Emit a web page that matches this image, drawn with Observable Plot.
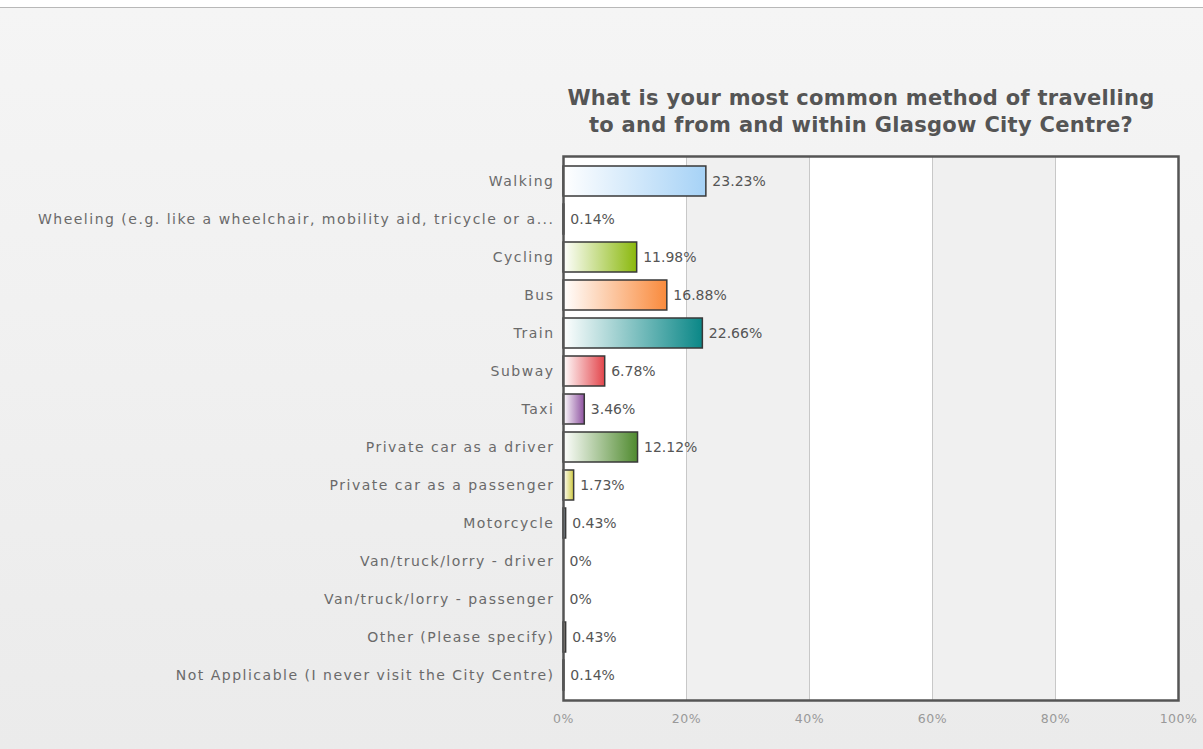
<!DOCTYPE html>
<html><head><meta charset="utf-8">
<script src="https://cdn.jsdelivr.net/npm/d3@7"></script>
<script src="https://cdn.jsdelivr.net/npm/@observablehq/plot@0.6"></script>
<style>
body{margin:0;width:1203px;height:749px;overflow:hidden;background:#fff;font-family:"DejaVu Sans",Verdana,sans-serif}
#wrap{position:absolute;left:0;top:7px;width:1203px;height:742px;border-top:1px solid #b8b8b8;background:linear-gradient(#f5f5f5,#ebebeb)}
#title{position:absolute;left:556px;width:610px;top:85px;text-align:center;font-weight:bold;font-size:21px;letter-spacing:0.3px;color:#555;line-height:27px;white-space:nowrap}
#chart{position:absolute;left:0;top:0}
</style></head><body>
<div id="wrap"></div>
<div id="title">What is your most common method of travelling<br>to and from and within Glasgow City Centre?</div>
<div id="chart"></div>
<script>
const categories = [
  "Walking",
  "Wheeling (e.g. like a wheelchair, mobility aid, tricycle or a...",
  "Cycling",
  "Bus",
  "Train",
  "Subway",
  "Taxi",
  "Private car as a driver",
  "Private car as a passenger",
  "Motorcycle",
  "Van/truck/lorry - driver",
  "Van/truck/lorry - passenger",
  "Other (Please specify)",
  "Not Applicable (I never visit the City Centre)"
];
const values = [23.23, 0.14, 11.98, 16.88, 22.66, 6.78, 3.46, 12.12, 1.73, 0.43, 0, 0, 0.43, 0.14];
const colors = ["#a6d2f6", "#333333", "#8ab80c", "#f98a3c", "#0a8787", "#e3454b", "#8e52a0", "#4f8a2e", "#cfc943", "#5b8aa6", "#999999", "#999999", "#a88a68", "#444444"];
const xTicks = [0, 20, 40, 60, 80, 100];
const shadedStart = [20, 60];
const shadedEnd = [40, 80];

const data = categories.map((c, i) => ({cat: c, val: values[i], grad: `url(#g${i})`, label: values[i] + "%"}));
const shaded = shadedStart.map((s, i) => ({x1: s, x2: shadedEnd[i]}));

const plot = Plot.plot({
  width: 1203,
  height: 749,
  marginLeft: 563,
  marginRight: 25,
  marginTop: 156,
  marginBottom: 49,
  style: {background: "transparent", fontFamily: "'DejaVu Sans', Verdana, sans-serif"},
  x: {domain: [0, 100], ticks: xTicks, tickFormat: d => d + "%", label: null},
  y: {domain: categories, label: null, padding: 0.22},
  color: {type: "identity"},
  marks: [
    Plot.frame({fill: "white", stroke: "none"}),
    Plot.rectX(shaded, {x1: "x1", x2: "x2", fill: "#f0f0f0"}),
    Plot.ruleX(xTicks.slice(1, -1), {stroke: "#c8c8c8", strokeWidth: 1}),
    Plot.barX(data, {y: "cat", x: "val", fill: "grad", stroke: "#383838", strokeWidth: 1.5}),
    Plot.text(data, {y: "cat", x: "val", text: "label", textAnchor: "start", dx: 6, fill: "#555", fontSize: 14}),
    Plot.axisX({ticks: xTicks, tickFormat: d => d + "%", tickSize: 0, tickPadding: 14, fill: "#999", label: null}),
    Plot.axisY({tickSize: 0, tickPadding: 9, fill: "#6a6a6a", label: null}),
    Plot.frame({stroke: "#555", strokeWidth: 2.5})
  ]
});

const svg = d3.select(plot);
svg.selectAll('g[aria-label="y-axis tick label"]').style("font-size", "14px").style("letter-spacing", "1.5px");
svg.selectAll('g[aria-label="x-axis tick label"]').style("font-size", "12.5px").style("letter-spacing", "0.5px");
const defs = svg.insert("defs", ":first-child");
colors.forEach((c, i) => {
  const g = defs.append("linearGradient").attr("id", "g" + i).attr("x1", "0").attr("x2", "1").attr("y1", "0").attr("y2", "0");
  g.append("stop").attr("offset", "0%").attr("stop-color", "#ffffff");
  g.append("stop").attr("offset", "100%").attr("stop-color", c);
});
document.getElementById("chart").appendChild(plot);
</script>
</body></html>
